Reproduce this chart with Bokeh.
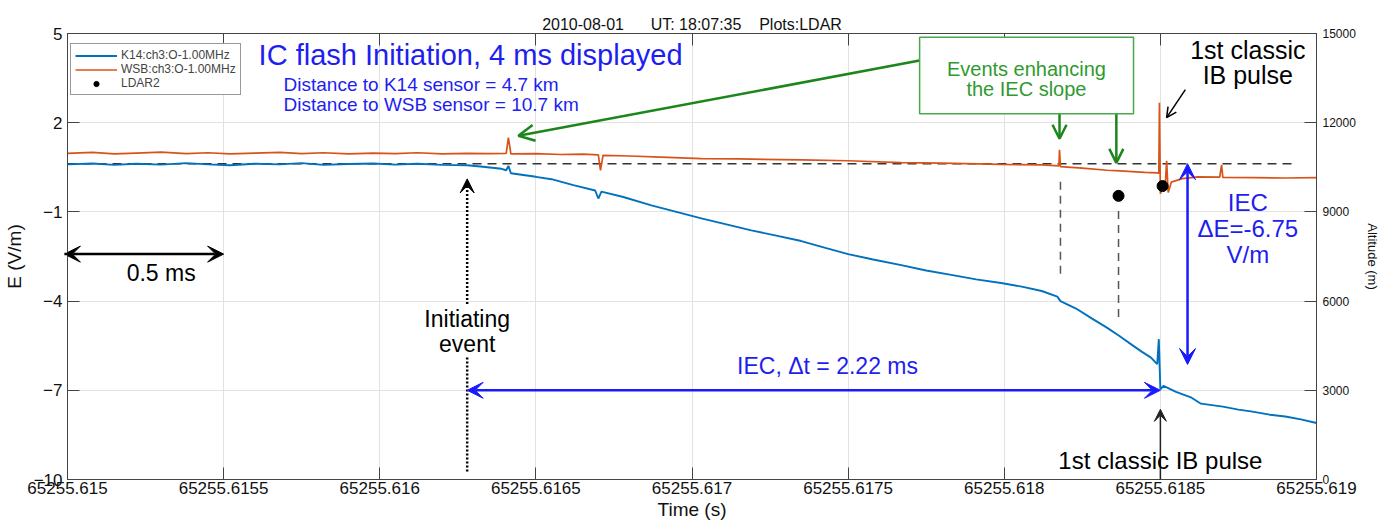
from bokeh.plotting import figure
from bokeh.models import (Range1d, LinearAxis, FixedTicker, Label, Arrow, VeeHead,
                          OpenHead, Legend, LegendItem, BoxAnnotation)
from bokeh.embed import file_html
from bokeh.resources import INLINE

# ---- time axis: milliseconds after 65255.615 s UT ----
time_ticks = [0.0, 0.5, 1.0, 1.5, 2.0, 2.5, 3.0, 3.5, 4.0]
time_tick_labels = ["65255.615", "65255.6155", "65255.616", "65255.6165", "65255.617",
                    "65255.6175", "65255.618", "65255.6185", "65255.619"]
e_ticks = [5, 2, -1, -4, -7, -10]
alt_ticks = [0, 3000, 6000, 9000, 12000, 15000]

# ---- K14 field change (V/m) ----
k14_t = [0.00, 0.08, 0.15, 0.22, 0.30, 0.38, 0.45, 0.52, 0.60, 0.68, 0.75, 0.82, 0.90,
         0.98, 1.05, 1.12, 1.20, 1.28, 1.33, 1.39, 1.405, 1.412, 1.42, 1.50, 1.55, 1.62,
         1.69, 1.70, 1.71, 1.78, 1.87, 1.95, 2.03, 2.11, 2.19, 2.27, 2.35, 2.43, 2.50,
         2.58, 2.67, 2.75, 2.83, 2.91, 2.99, 3.06, 3.12, 3.17, 3.18, 3.23, 3.28, 3.33,
         3.37, 3.41, 3.44, 3.47, 3.49, 3.495, 3.50, 3.51, 3.55, 3.60, 3.63, 3.70, 3.75,
         3.79, 3.85, 3.90, 3.95, 4.00]
k14_e = [0.60, 0.63, 0.58, 0.62, 0.59, 0.64, 0.60, 0.57, 0.62, 0.60, 0.64, 0.58, 0.61,
         0.63, 0.59, 0.62, 0.58, 0.57, 0.52, 0.45, 0.40, 0.55, 0.30, 0.18, 0.10, -0.10,
         -0.28, -0.55, -0.32, -0.50, -0.78, -1.00, -1.22, -1.42, -1.62, -1.80, -1.98, -2.22, -2.42,
         -2.60, -2.79, -2.97, -3.12, -3.27, -3.39, -3.52, -3.66, -3.85, -4.00, -4.25, -4.58, -4.90,
         -5.18, -5.48, -5.70, -5.90, -6.12, -5.28, -6.97, -6.85, -7.05, -7.25, -7.45, -7.55, -7.65,
         -7.71, -7.82, -7.88, -7.98, -8.10]

# ---- WSB field change (V/m) ----
wsb_t = [0.00, 0.08, 0.15, 0.22, 0.30, 0.38, 0.45, 0.52, 0.60, 0.68, 0.75, 0.82, 0.90,
         0.98, 1.05, 1.12, 1.20, 1.28, 1.35, 1.405, 1.412, 1.42, 1.50, 1.58, 1.65, 1.70,
         1.707, 1.715, 1.80, 1.90, 2.03, 2.15, 2.35, 2.50, 2.67, 2.80, 2.99, 3.12, 3.175,
         3.177, 3.18, 3.25, 3.33, 3.37, 3.45, 3.49, 3.495, 3.497, 3.500, 3.51, 3.515, 3.52,
         3.525, 3.535, 3.57, 3.62, 3.69, 3.696, 3.70, 3.80, 3.90, 4.00]
wsb_e = [0.97, 1.00, 0.95, 0.98, 1.01, 0.96, 0.99, 0.95, 0.98, 1.00, 0.96, 0.99, 0.95,
         0.98, 0.96, 0.99, 0.95, 0.97, 0.96, 0.97, 1.50, 0.95, 0.96, 0.93, 0.94, 0.92,
         0.40, 0.90, 0.88, 0.84, 0.79, 0.78, 0.75, 0.72, 0.66, 0.64, 0.60, 0.58, 0.55,
         1.09, 0.52, 0.47, 0.40, 0.38, 0.33, 0.31, 0.30, 2.67, -0.39, -0.10, -0.25, 0.72,
         -0.35, 0.00, 0.12, 0.18, 0.17, 0.58, 0.16, 0.15, 0.14, 0.15]

# ---- LDAR2 sources: time (ms) and altitude (m) ----
ldar_t = [3.366, 3.507]
ldar_alt = [9540, 9870]

# ---- annotation quantities ----
t_init = 1.28                 # initiating event
iec_dt = 2.22                 # IEC duration (ms)
t_ib = t_init + iec_dt        # first classic IB pulse
e_base = 0.62                 # K14 pre-flash level
iec_de = -6.75                # IEC field change (V/m)

BLUE = "#0072BD"
ORANGE = "#D95319"
TXT_BLUE = "#1e1ef0"
GREEN = "#2f9a2f"
GREEN_DARK = "#1c861c"
FONT = "Liberation Sans"

p = figure(width=1385, height=522, x_range=Range1d(0, 4), y_range=Range1d(-10, 5),
           output_backend="svg", toolbar_location=None,
           min_border_left=66, min_border_right=69, min_border_top=33, min_border_bottom=43,
           title="2010-08-01\u00a0\u00a0\u00a0\u00a0\u00a0\u00a0UT: 18:07:35\u00a0\u00a0\u00a0\u00a0Plots:LDAR")
p.title.align = "center"
p.title.text_font = FONT
p.title.text_font_size = "16px"
p.title.text_font_style = "normal"
p.title.text_color = "#111111"
p.title.standoff = 2

p.outline_line_color = "#444444"
p.outline_line_width = 1

# bottom axis
xa = p.xaxis[0]
xa.ticker = FixedTicker(ticks=time_ticks)
xa.major_label_overrides = {t: s for t, s in zip(time_ticks, time_tick_labels)}
xa.axis_label = "Time (s)"
# left axis
ya = p.yaxis[0]
ya.ticker = FixedTicker(ticks=e_ticks)
ya.axis_label = "E (V/m)"

for ax in (xa, ya):
    ax.major_tick_in = 12
    ax.major_tick_out = 0
    ax.minor_tick_line_color = None
    ax.axis_line_color = "#444444"
    ax.major_tick_line_color = "#444444"
    ax.major_label_text_font = FONT
    ax.major_label_text_font_size = "17px"
    ax.major_label_text_color = "#111111"
    ax.axis_label_text_font = FONT
    ax.axis_label_text_font_size = "19px"
    ax.axis_label_text_font_style = "normal"
    ax.axis_label_text_color = "#111111"
xa.major_label_standoff = 2
xa.axis_label_standoff = 2
ya.major_label_standoff = 5
ya.axis_label_standoff = 6

# top axis: ticks only
top = LinearAxis(ticker=FixedTicker(ticks=time_ticks), major_tick_in=12, major_tick_out=0,
                 major_label_text_font_size="0px", major_label_standoff=0,
                 minor_tick_line_color=None, axis_line_color="#444444",
                 major_tick_line_color="#444444")
p.add_layout(top, "above")

# right axis: LDAR altitude
p.extra_y_ranges = {"alt": Range1d(0, 15000)}
ra = LinearAxis(y_range_name="alt", ticker=FixedTicker(ticks=alt_ticks), axis_label="Altitude (m)",
                major_tick_in=12, major_tick_out=0, minor_tick_line_color=None,
                axis_line_color="#444444", major_tick_line_color="#444444",
                major_label_text_font=FONT, major_label_text_font_size="12px",
                major_label_text_color="#111111", major_label_standoff=6,
                axis_label_text_font=FONT, axis_label_text_font_size="13px",
                axis_label_text_font_style="normal", axis_label_text_color="#111111",
                axis_label_standoff=6)
p.add_layout(ra, "right")

p.xgrid.grid_line_color = "#e2e2e2"
p.ygrid.grid_line_color = "#e2e2e2"
p.xgrid.ticker = FixedTicker(ticks=time_ticks)
p.ygrid.ticker = FixedTicker(ticks=e_ticks)

# dashed pre-flash reference level
p.segment(x0=[0], y0=[e_base], x1=[3.93], y1=[e_base], line_color="#333333",
          line_dash="9 6", line_width=1.3)

# data traces
r_wsb = p.line(wsb_t, wsb_e, line_color=ORANGE, line_width=1.7)
r_k14 = p.line(k14_t, k14_e, line_color=BLUE, line_width=1.9)
r_ldar = p.scatter(ldar_t, ldar_alt, y_range_name="alt", size=11, color="black")

# dashed drop lines from the enhancing events
p.segment(x0=[3.18, 3.366], y0=[0.01, -0.97], x1=[3.18, 3.366], y1=[-3.12, -4.74],
          line_color="#555555", line_dash="8 6", line_width=1.5)

legend = Legend(items=[LegendItem(label="K14:ch3:O-1.00MHz", renderers=[r_k14]),
                       LegendItem(label="WSB:ch3:O-1.00MHz", renderers=[r_wsb]),
                       LegendItem(label="LDAR2", renderers=[r_ldar])],
                location=(3, 384), label_text_font=FONT, label_text_font_size="12px",
                glyph_width=42, glyph_height=13, label_height=12, spacing=0, padding=4,
                label_standoff=4, border_line_color="#333333", border_line_width=1,
                margin=0, background_fill_alpha=1)
p.add_layout(legend)


def label(x, y, text, size, color, align="center", **kw):
    p.add_layout(Label(x=x, y=y, text=text, text_font=FONT, text_font_size=size,
                       text_color=color, text_align=align, text_baseline="middle", **kw))


def arrow(x0, y0, x1, y1, color, width=2, start=None, end=None, dash="solid"):
    p.add_layout(Arrow(x_start=x0, y_start=y0, x_end=x1, y_end=y1, line_color=color,
                       line_width=width, line_dash=dash, start=start, end=end))


def vee(color, size=16):
    return VeeHead(size=size, fill_color=color, line_color=color)


# headline text
label(0.612, 4.29, "IC flash Initiation, 4 ms displayed", "29px", TXT_BLUE, align="left")
label(0.692, 3.28, "Distance to K14 sensor = 4.7 km", "19px", TXT_BLUE, align="left")
label(0.692, 2.61, "Distance to WSB sensor = 10.7 km", "19px", TXT_BLUE, align="left")

# 0.5 ms scale bar
arrow(-0.01, -2.42, 0.5, -2.42, "black", width=2.5, start=vee("black"), end=vee("black"))
label(0.30, -3.06, "0.5 ms", "23px", "black")

# initiating event
arrow(t_init, -4.10, t_init, 0.11, "black", width=2.5, end=vee("black", 14), dash="2 2")
arrow(t_init, -9.73, t_init, -5.85, "black", width=2.5, dash="2 2")
label(t_init, -4.6, "Initiating", "23px", "black")
label(t_init, -5.45, "event", "23px", "black")

# IEC duration
arrow(t_init, -7, t_ib, -7, "#1a1aff", width=2.5, start=vee("#1a1aff"), end=vee("#1a1aff"))
label(2.434, -6.19, "IEC, \u0394t = 2.22 ms", "23px", TXT_BLUE)

# IEC field change
arrow(3.587, e_base, 3.587, e_base + iec_de, "#1a1aff", width=2.5,
      start=vee("#1a1aff"), end=vee("#1a1aff"))
label(3.78, -0.70, "IEC", "24px", TXT_BLUE)
label(3.78, -1.57, "\u0394E=-6.75", "24px", TXT_BLUE)
label(3.78, -2.43, "V/m", "24px", TXT_BLUE)

# first classic IB pulse (bottom)
arrow(t_ib, -10, t_ib, -7.64, "#222222", width=1.5, end=vee("#222222", 12))
label(t_ib, -9.36, "1st classic IB pulse", "24px", "black")

# first classic IB pulse (top)
label(3.78, 4.43, "1st classic", "25px", "black")
label(3.78, 3.59, "IB pulse", "25px", "black")
arrow(3.58, 3.11, 3.52, 2.17, "black", width=1.5, end=OpenHead(size=10, line_color="black", line_width=1.5))

# events enhancing the IEC slope
p.add_layout(BoxAnnotation(left=2.729, right=3.414, top=4.87, bottom=2.30,
                           fill_color="white", fill_alpha=1.0, line_color="#4aa84a",
                           line_alpha=1.0, line_width=1.5, level="overlay"))
label(3.071, 3.82, "Events enhancing", "20px", GREEN, level="overlay")
label(3.071, 3.15, "the IEC slope", "20px", GREEN, level="overlay")
arrow(2.729, 4.09, 1.444, 1.56, GREEN_DARK, width=2.5,
      end=OpenHead(size=16, line_color=GREEN_DARK, line_width=2.5))
arrow(3.177, 2.30, 3.177, 1.46, GREEN_DARK, width=2.5,
      end=OpenHead(size=14, line_color=GREEN_DARK, line_width=2.5))
arrow(3.359, 2.30, 3.359, 0.65, GREEN_DARK, width=2.5,
      end=OpenHead(size=14, line_color=GREEN_DARK, line_width=2.5))

open("out.html", "w").write(file_html(p, INLINE))
